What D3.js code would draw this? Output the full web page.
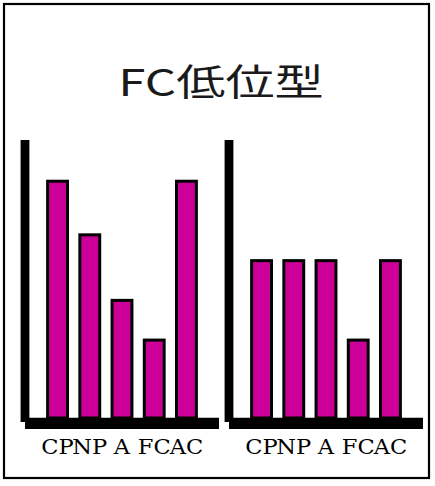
<!DOCTYPE html>
<html>
<head>
<meta charset="utf-8">
<script src="https://cdn.jsdelivr.net/npm/d3@7"></script>
<style>
  html, body { margin: 0; padding: 0; background: #fff; }
</style>
</head>
<body>
<svg id="chart"></svg>
<script>
const title = "FC低位型";
const categories = ["CP", "NP", "A", "FC", "AC"];
const leftValues = [6, 4.65, 3, 2, 6];
const rightValues = [4, 4, 4, 2, 4];
const panels = [
  { name: "left", values: leftValues },
  { name: "right", values: rightValues },
];

const width = 435;
const height = 486;
const panelStep = 204;

const svg = d3.select("#chart").attr("width", width).attr("height", height);

// outer frame
svg.append("rect")
  .attr("x", 4).attr("y", 4)
  .attr("width", 425).attr("height", 474)
  .attr("fill", "none")
  .attr("stroke", "#000")
  .attr("stroke-width", 2.2);

// title, stretched wide like the original
svg.append("text")
  .attr("transform", "translate(221,96) scale(1.33,1)")
  .attr("text-anchor", "middle")
  .attr("font-family", "'Noto Sans CJK JP', 'Noto Sans', sans-serif")
  .attr("font-size", 37)
  .attr("fill", "#1a1a1a")
  .text(title);

const x = d3.scaleBand().domain(categories).range([30, 214]).paddingInner(0.29).paddingOuter(0.5);
const y = d3.scaleLinear().domain([0, 7]).range([418, 140]);

panels.forEach((p, i) => {
  const g = svg.append("g").attr("transform", `translate(${i * panelStep},0)`);

  // thick axis lines
  g.append("line")
    .attr("x1", 25).attr("x2", 25)
    .attr("y1", y(7)).attr("y2", 422)
    .attr("stroke", "#000").attr("stroke-width", 8.8);
  g.append("line")
    .attr("x1", 25).attr("x2", x.range()[1] + 5)
    .attr("y1", 423.4).attr("y2", 423.4)
    .attr("stroke", "#000").attr("stroke-width", 11.3);

  // bars
  g.append("g")
    .selectAll("rect")
    .data(p.values)
    .join("rect")
    .attr("x", (d, j) => x(categories[j]) + 1.5)
    .attr("y", (d) => y(d) + 1.5)
    .attr("width", x.bandwidth() - 3)
    .attr("height", (d) => y(0) - y(d) - 1.5)
    .attr("fill", "#cc0099")
    .attr("stroke", "#000")
    .attr("stroke-width", 3);

  // category labels
  g.append("g")
    .selectAll("text")
    .data(categories)
    .join("text")
    .attr("transform", (d) => `translate(${x(d) + x.bandwidth() / 2},454) scale(1.1,1)`)
    .attr("text-anchor", "middle")
    .attr("font-family", "'DejaVu Serif', 'Liberation Serif', serif")
    .attr("font-size", 20.5)
    .attr("fill", "#000")
    .text((d) => d);
});
</script>
</body>
</html>
